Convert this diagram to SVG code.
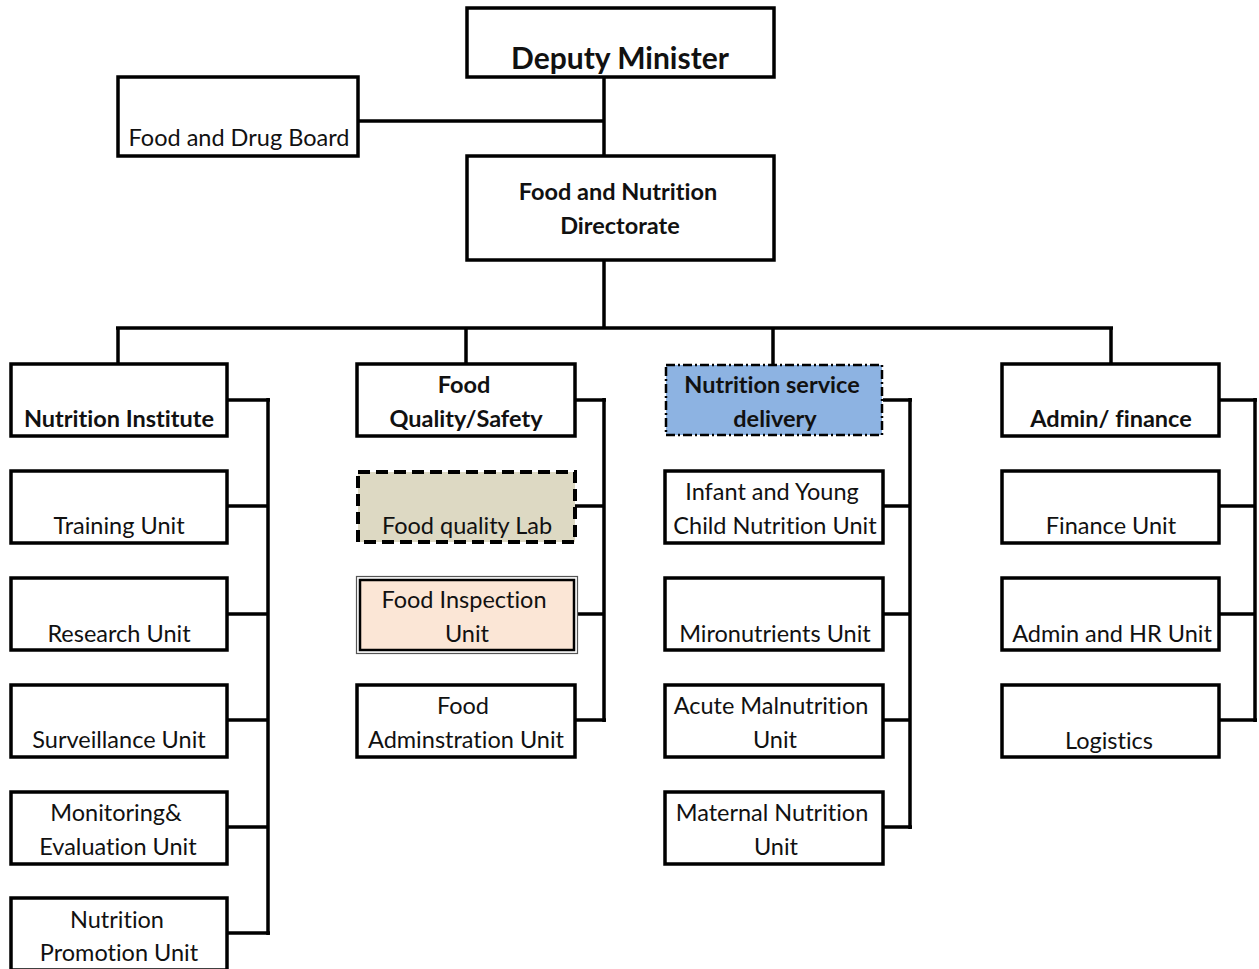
<svg xmlns="http://www.w3.org/2000/svg" width="1259" height="969" viewBox="0 0 1259 969">
  <style>
    .box { fill: #ffffff; stroke: #000000; stroke-width: 3.5; }
    .lab { fill: #ddd9c3; stroke: #000000; stroke-width: 4; stroke-dasharray: 12 6; }
    .svc { fill: #8db3e2; stroke: #000000; stroke-width: 2.5; stroke-dasharray: 9 3 2 3; }
    .insp { fill: #fbe6d6; stroke: #000000; stroke-width: 2.5; }
    .insp-outer { fill: none; stroke: #555555; stroke-width: 1.2; }
    .t { font-family: Lato, "Open Sans", "Liberation Sans", sans-serif; font-size: 23.5px; fill: #111111; text-anchor: middle; font-variant-ligatures: none; }
    .b { font-weight: bold; }
    .big { font-size: 30px; }
    .conn line { stroke: #000000; stroke-width: 3.5; fill: none; }
  </style>

  <g class="conn" id="connectors">
    <!-- top of the chart -->
    <line x1="604" y1="77" x2="604" y2="156"/>
    <line x1="358" y1="121" x2="604" y2="121"/>
    <line x1="604" y1="260" x2="604" y2="328"/>
    <line x1="116" y1="328" x2="1113" y2="328"/>
    <line x1="118" y1="328" x2="118" y2="364"/>
    <line x1="466" y1="328" x2="466" y2="364"/>
    <line x1="773" y1="328" x2="773" y2="364"/>
    <line x1="1111" y1="328" x2="1111" y2="364"/>
    <!-- column 1 spine -->
    <line x1="268" y1="398" x2="268" y2="935"/>
    <line x1="227" y1="400" x2="270" y2="400"/>
    <line x1="227" y1="506" x2="268" y2="506"/>
    <line x1="227" y1="614" x2="268" y2="614"/>
    <line x1="227" y1="720" x2="268" y2="720"/>
    <line x1="227" y1="827" x2="268" y2="827"/>
    <line x1="227" y1="933" x2="270" y2="933"/>
    <!-- column 2 spine -->
    <line x1="604" y1="398" x2="604" y2="722"/>
    <line x1="575" y1="400" x2="606" y2="400"/>
    <line x1="575" y1="506" x2="604" y2="506"/>
    <line x1="577" y1="614" x2="604" y2="614"/>
    <line x1="575" y1="720" x2="606" y2="720"/>
    <!-- column 3 spine -->
    <line x1="910" y1="398" x2="910" y2="829"/>
    <line x1="883" y1="400" x2="912" y2="400"/>
    <line x1="883" y1="506" x2="910" y2="506"/>
    <line x1="883" y1="614" x2="910" y2="614"/>
    <line x1="883" y1="720" x2="910" y2="720"/>
    <line x1="883" y1="827" x2="912" y2="827"/>
    <!-- column 4 spine -->
    <line x1="1255" y1="398" x2="1255" y2="722"/>
    <line x1="1219" y1="400" x2="1257" y2="400"/>
    <line x1="1219" y1="506" x2="1255" y2="506"/>
    <line x1="1219" y1="614" x2="1255" y2="614"/>
    <line x1="1219" y1="720" x2="1257" y2="720"/>
  </g>

  <g id="deputy-minister">
    <rect class="box" x="467" y="8" width="307" height="69"/>
    <text class="t b big" x="620" y="69">Deputy Minister</text>
  </g>
  <g id="food-drug-board">
    <rect class="box" x="118" y="77" width="240" height="79"/>
    <text class="t" x="239" y="146">Food and Drug Board</text>
  </g>
  <g id="directorate">
    <rect class="box" x="467" y="156" width="307" height="104"/>
    <text class="t b" x="618" y="200">Food and Nutrition</text>
    <text class="t b" x="620" y="234">Directorate</text>
  </g>

  <!-- column 1 -->
  <g id="nutrition-institute">
    <rect class="box" x="11" y="364" width="216" height="72"/>
    <text class="t b" x="119" y="427">Nutrition Institute</text>
  </g>
  <g id="training-unit">
    <rect class="box" x="11" y="471" width="216" height="72"/>
    <text class="t" x="119" y="534">Training Unit</text>
  </g>
  <g id="research-unit">
    <rect class="box" x="11" y="578" width="216" height="72"/>
    <text class="t" x="119" y="642">Research Unit</text>
  </g>
  <g id="surveillance-unit">
    <rect class="box" x="11" y="685" width="216" height="72"/>
    <text class="t" x="119" y="748">Surveillance Unit</text>
  </g>
  <g id="me-unit">
    <rect class="box" x="11" y="792" width="216" height="72"/>
    <text class="t" x="116" y="821">Monitoring&amp;</text>
    <text class="t" x="118" y="855">Evaluation Unit</text>
  </g>
  <g id="promotion-unit">
    <rect class="box" x="11" y="898" width="216" height="72"/>
    <text class="t" x="117" y="928">Nutrition</text>
    <text class="t" x="119" y="961">Promotion Unit</text>
  </g>

  <!-- column 2 -->
  <g id="food-quality-safety">
    <rect class="box" x="357" y="364" width="218" height="72"/>
    <text class="t b" x="464" y="393">Food</text>
    <text class="t b" x="466" y="427">Quality/Safety</text>
  </g>
  <g id="food-quality-lab">
    <rect class="lab" x="358" y="472" width="217" height="70"/>
    <text class="t" x="467" y="534">Food quality Lab</text>
  </g>
  <g id="food-inspection-unit">
    <rect class="insp-outer" x="356.5" y="576.5" width="221" height="77"/>
    <rect class="insp" x="360" y="580" width="214" height="70"/>
    <text class="t" x="464" y="608">Food Inspection</text>
    <text class="t" x="467" y="642">Unit</text>
  </g>
  <g id="food-administration-unit">
    <rect class="box" x="357" y="685" width="218" height="72"/>
    <text class="t" x="463" y="714">Food</text>
    <text class="t" x="466" y="748">Adminstration Unit</text>
  </g>

  <!-- column 3 -->
  <g id="nutrition-service-delivery">
    <rect class="svc" x="666" y="365" width="216" height="70"/>
    <text class="t b" x="772" y="393">Nutrition service</text>
    <text class="t b" x="775" y="427">delivery</text>
  </g>
  <g id="iycn-unit">
    <rect class="box" x="665" y="471" width="218" height="72"/>
    <text class="t" x="772" y="500">Infant and Young</text>
    <text class="t" x="775" y="534">Child Nutrition Unit</text>
  </g>
  <g id="micronutrients-unit">
    <rect class="box" x="665" y="578" width="218" height="72"/>
    <text class="t" x="775" y="642">Mironutrients Unit</text>
  </g>
  <g id="acute-malnutrition-unit">
    <rect class="box" x="665" y="685" width="218" height="72"/>
    <text class="t" x="771" y="714">Acute Malnutrition</text>
    <text class="t" x="775" y="748">Unit</text>
  </g>
  <g id="maternal-nutrition-unit">
    <rect class="box" x="665" y="792" width="218" height="72"/>
    <text class="t" x="772" y="821">Maternal Nutrition</text>
    <text class="t" x="776" y="855">Unit</text>
  </g>

  <!-- column 4 -->
  <g id="admin-finance">
    <rect class="box" x="1002" y="364" width="217" height="72"/>
    <text class="t b" x="1111" y="427">Admin/ finance</text>
  </g>
  <g id="finance-unit">
    <rect class="box" x="1002" y="471" width="217" height="72"/>
    <text class="t" x="1111" y="534">Finance Unit</text>
  </g>
  <g id="admin-hr-unit">
    <rect class="box" x="1002" y="578" width="217" height="72"/>
    <text class="t" x="1112" y="642">Admin and HR Unit</text>
  </g>
  <g id="logistics">
    <rect class="box" x="1002" y="685" width="217" height="72"/>
    <text class="t" x="1109" y="749">Logistics</text>
  </g>
</svg>
